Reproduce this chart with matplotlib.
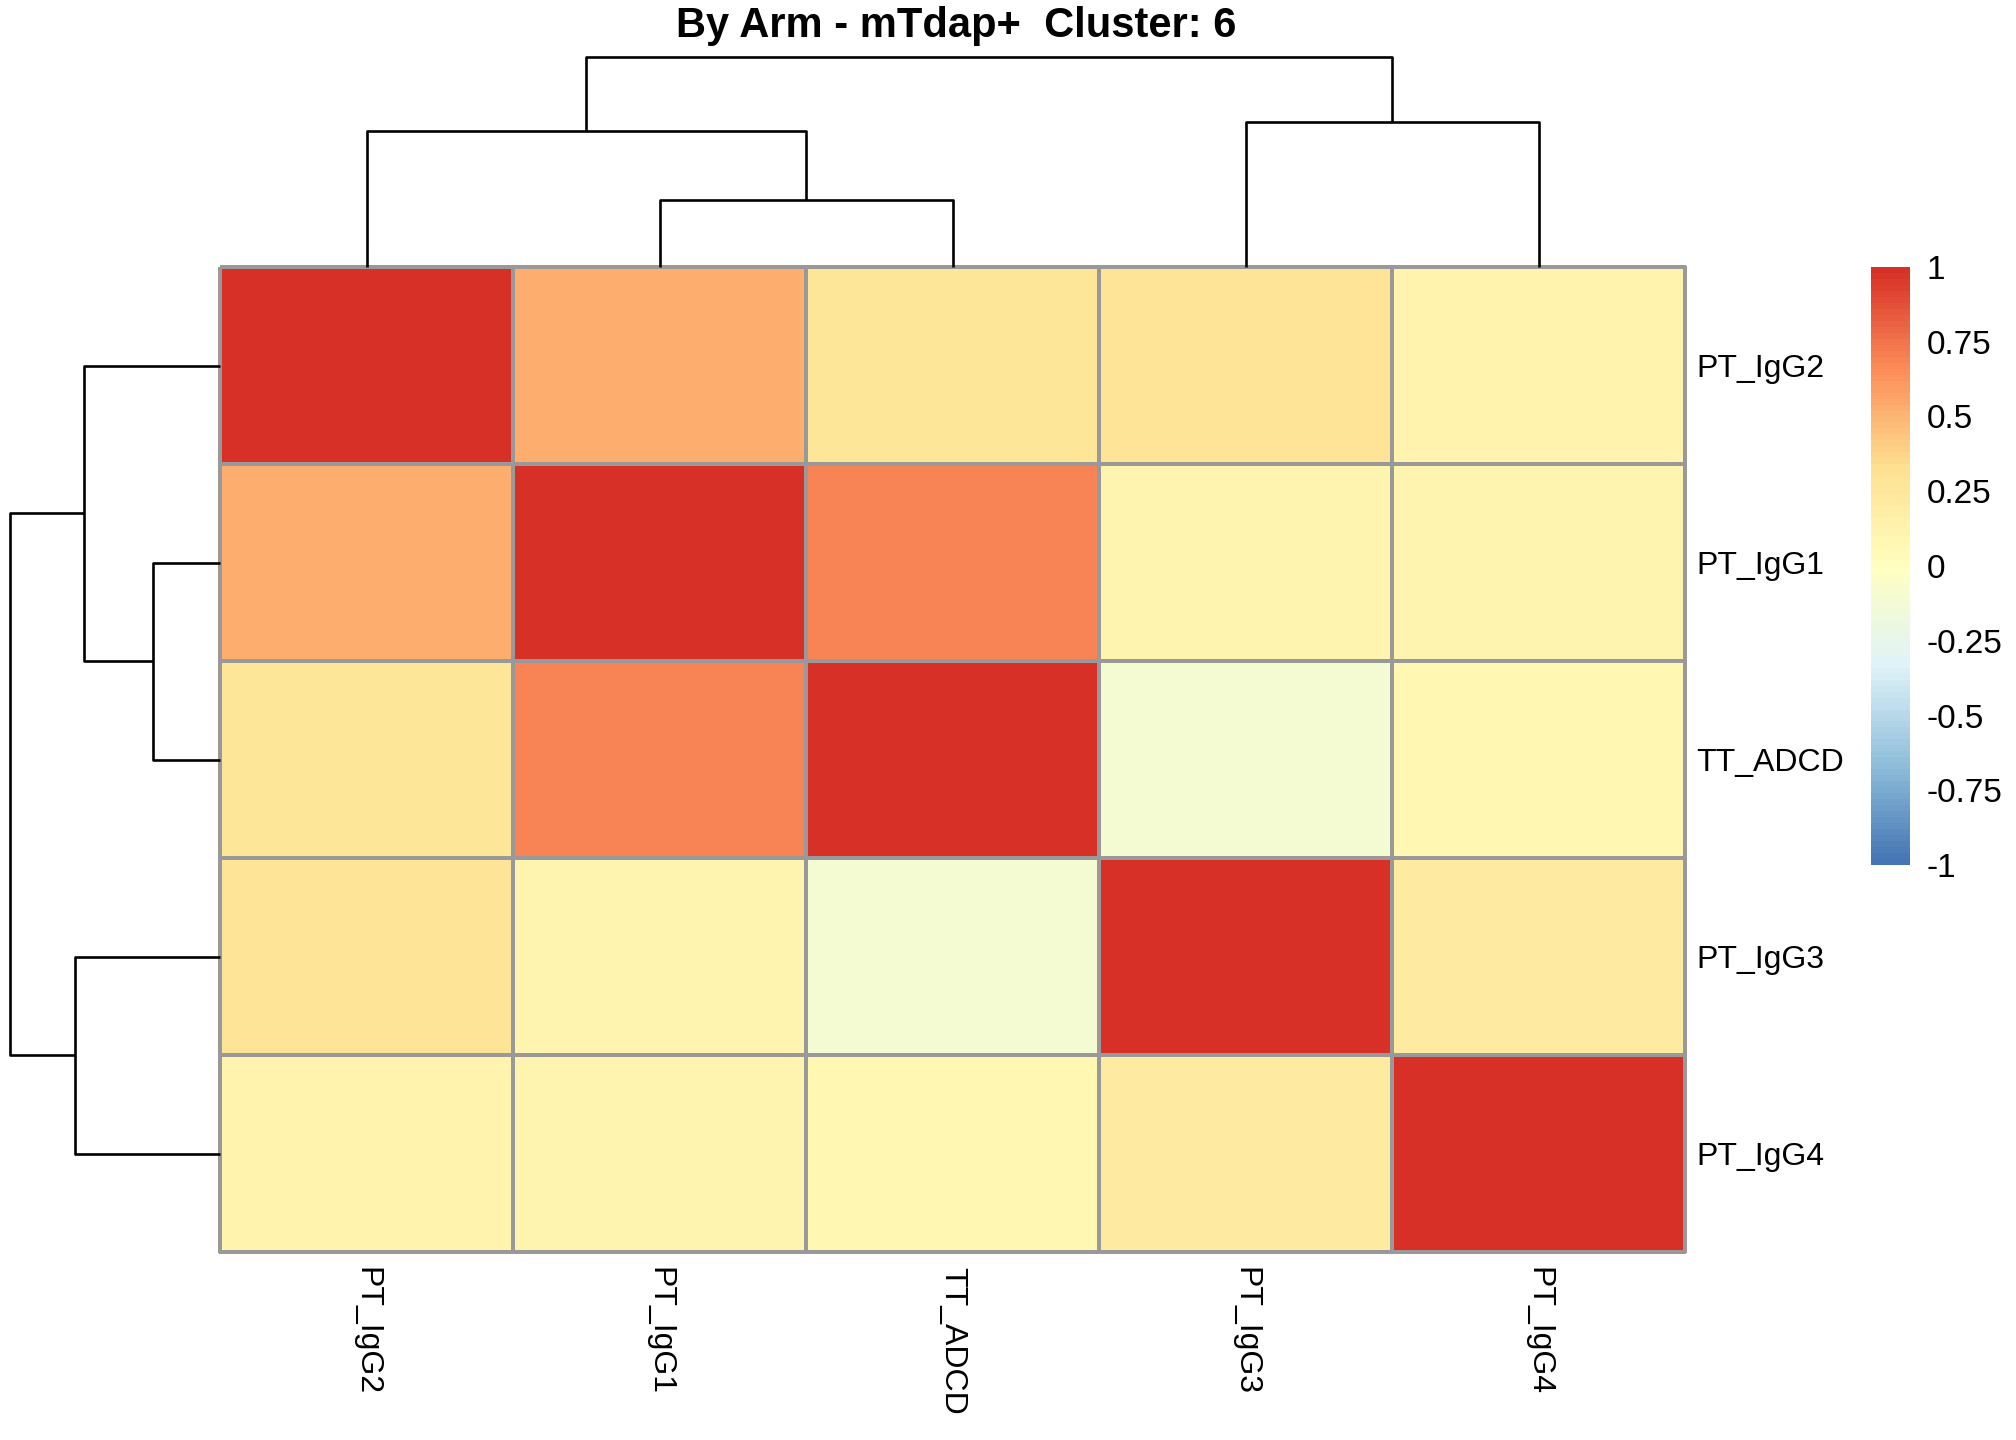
import numpy as np
import matplotlib
matplotlib.use('Agg')
import matplotlib.pyplot as plt
from matplotlib.colors import LinearSegmentedColormap, ListedColormap, Normalize
from matplotlib.cm import ScalarMappable

plt.rcParams['font.family'] = ['Liberation Sans', 'DejaVu Sans']

labels = ['PT_IgG2', 'PT_IgG1', 'TT_ADCD', 'PT_IgG3', 'PT_IgG4']

# Correlation matrix, rows/cols in the plotted (clustered) order.
corr = np.array([
    [1.00, 0.53, 0.27, 0.28, 0.12],
    [0.53, 1.00, 0.69, 0.10, 0.10],
    [0.27, 0.69, 1.00, -0.11, 0.08],
    [0.28, 0.10, -0.11, 1.00, 0.20],
    [0.12, 0.10, 0.08, 0.20, 1.00],
])

# Linkage: (left child, right child, height); leaves are 0..4 in plot order,
# merged clusters get ids 5, 6, ...
merges = [
    (1, 2, 0.32),
    (3, 4, 0.69),
    (0, 5, 0.65),
    (7, 6, 1.00),
]

legend_ticks = [1, 0.75, 0.5, 0.25, 0, -0.25, -0.5, -0.75, -1]
legend_labels = ['1', '0.75', '0.5', '0.25', '0', '-0.25', '-0.5', '-0.75', '-1']

title = 'By Arm - mTdap+  Cluster: 6'

# pheatmap default palette
brewer = ['#4575B4', '#91BFDB', '#E0F3F8', '#FFFFBF', '#FEE090', '#FC8D59', '#D73027']
ramp = LinearSegmentedColormap.from_list('ramp', brewer)
cmap = ListedColormap(ramp(np.linspace(0, 1, 100)))
norm = Normalize(-1, 1)


def dendro_segments(merges, n):
    pos = {i: i + 0.5 for i in range(n)}
    hgt = {i: 0.0 for i in range(n)}
    segs = []
    for k, (a, b, h) in enumerate(merges):
        cid = n + k
        segs.append([(pos[a], hgt[a]), (pos[a], h), (pos[b], h), (pos[b], hgt[b])])
        pos[cid] = (pos[a] + pos[b]) / 2
        hgt[cid] = h
    return segs


W, H = 2016, 1440
fig = plt.figure(figsize=(W / 100, H / 100), dpi=100)

def px_axes(x0, y0, x1, y1):
    return fig.add_axes([x0 / W, 1 - y1 / H, (x1 - x0) / W, (y1 - y0) / H])

hx0, hy0, hx1, hy1 = 220, 267, 1685, 1252
n = len(labels)

ax = px_axes(hx0, hy0, hx1, hy1)
mesh = ax.pcolormesh(np.arange(n + 1), np.arange(n + 1), corr, cmap=cmap, norm=norm,
                     edgecolors='#999999', linewidth=1.6)
mesh.set_clip_on(False)
ax.set_xlim(0, n)
ax.set_ylim(n, 0)
for s in ax.spines.values():
    s.set_visible(False)
ax.set_xticks(np.arange(n) + 0.5)
ax.set_xticklabels(labels, rotation=270, fontsize=23)
ax.set_yticks(np.arange(n) + 0.5)
ax.set_yticklabels(labels, fontsize=23)
ax.yaxis.tick_right()
ax.tick_params(axis='x', length=0, pad=11)
ax.tick_params(axis='y', length=0, pad=8)

segs = dendro_segments(merges, n)
hmax = max(m[2] for m in merges)

# column dendrogram
axc = px_axes(hx0, 57, hx1, hy0)
for seg in segs:
    xs, ys = zip(*seg)
    axc.plot(xs, ys, color='black', linewidth=1.9, clip_on=False, solid_capstyle='butt')
axc.set_xlim(0, n)
axc.set_ylim(0, hmax)
axc.axis('off')

# row dendrogram
axr = px_axes(10, hy0, hx0, hy1)
for seg in segs:
    ys, xs = zip(*seg)
    axr.plot(xs, ys, color='black', linewidth=1.9, clip_on=False, solid_capstyle='butt')
axr.set_ylim(n, 0)
axr.set_xlim(hmax, 0)
axr.axis('off')

# legend
cax = px_axes(1871, 267, 1910, 865)
cb = fig.colorbar(ScalarMappable(norm=norm, cmap=cmap), cax=cax)
cb.outline.set_visible(False)
cb.set_ticks(legend_ticks)
cb.set_ticklabels(legend_labels)
cax.tick_params(length=0, pad=12, labelsize=24)

fig.text(956 / W, 1 - 26 / H, title, ha='center', va='center',
         fontsize=30, fontweight='bold')

fig.savefig('out.png', dpi=100)
